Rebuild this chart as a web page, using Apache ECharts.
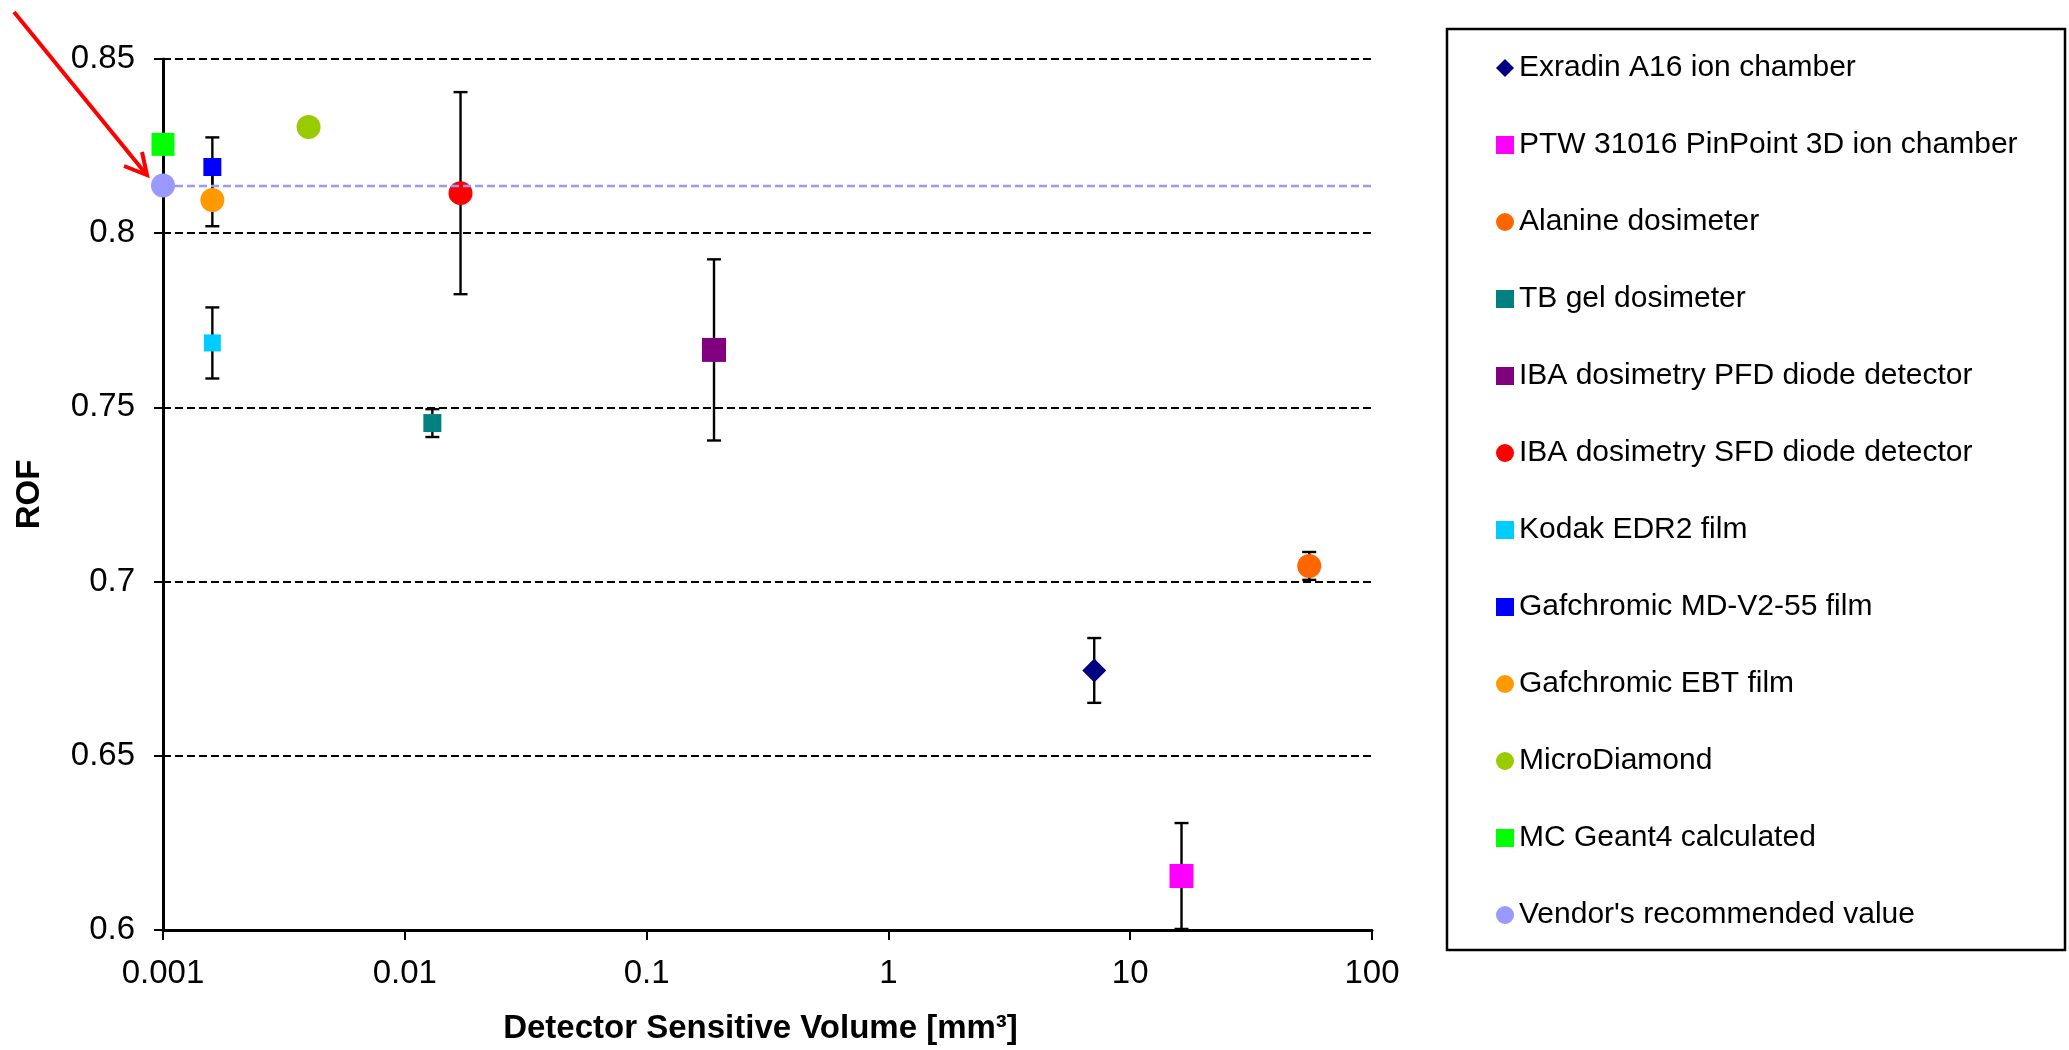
<!doctype html>
<html>
    <head>
        <meta charset="utf-8">
        <title>ROF vs detector volume</title>
        <style>
            html, body { margin: 0; padding: 0; background: #fff; }
            #main { width: 2069px; height: 1050px; }
        </style>
    </head>
    <body>
        <div id="main"></div>
        <script src="https://cdn.jsdelivr.net/npm/echarts@6/dist/echarts.min.js"></script>
        <script>
            // detectors, in legend order
            var detectors = [
                'Exradin A16 ion chamber',
                'PTW 31016 PinPoint 3D ion chamber',
                'Alanine dosimeter',
                'TB gel dosimeter',
                'IBA dosimetry PFD diode detector',
                'IBA dosimetry SFD diode detector',
                'Kodak EDR2 film',
                'Gafchromic MD-V2-55 film',
                'Gafchromic EBT film',
                'MicroDiamond',
                'MC Geant4 calculated',
                "Vendor's recommended value"
            ];
            // sensitive volume, mm3
            var volumes = [7.1, 16.3, 55, 0.013, 0.19, 0.017, 0.0016, 0.0016, 0.0016, 0.004, 0.001, 0.001];
            var rofValues = [0.6745, 0.6155, 0.7045, 0.7455, 0.7665, 0.8115, 0.7685, 0.819, 0.8095, 0.8305, 0.8255, 0.8137];
            var rofErrors = [0.0093, 0.0152, 0.004, 0.004, 0.026, 0.029, 0.0102, 0.0085, 0.0075, null, null, null];

            var xTickLabels = ['0.001', '0.01', '0.1', '1', '10', '100'];
            var yTickLabels = ['0.6', '0.65', '0.7', '0.75', '0.8', '0.85'];

            // marker look for each detector
            var markers = [
                { color: '#000080', symbol: 'diamond', size: 24 },
                { color: '#FF00FF', symbol: 'rect', size: 24 },
                { color: '#FF6600', symbol: 'circle', size: 24 },
                { color: '#008080', symbol: 'rect', size: 18 },
                { color: '#800080', symbol: 'rect', size: 24 },
                { color: '#FF0000', symbol: 'circle', size: 24 },
                { color: '#00CCFF', symbol: 'rect', size: 17 },
                { color: '#0000FF', symbol: 'rect', size: 18 },
                { color: '#FF9900', symbol: 'circle', size: 24 },
                { color: '#99CC00', symbol: 'circle', size: 24 },
                { color: '#00FF00', symbol: 'rect', size: 23 },
                { color: '#9999FF', symbol: 'circle', size: 24 }
            ];

            var font = 'Liberation Sans';
            var chart = echarts.init(document.getElementById('main'));

            var series = [];

            // error bars first, so the markers sit on top
            var errData = [];
            detectors.forEach(function (name, i) {
                if (rofErrors[i] != null) {
                    errData.push([volumes[i], rofValues[i], rofErrors[i]]);
                }
            });
            series.push({
                type: 'custom',
                name: 'errors',
                z: 1,
                silent: true,
                encode: { x: 0, y: 1 },
                data: errData,
                renderItem: function (params, api) {
                    var x = api.value(0), y = api.value(1), e = api.value(2);
                    var top = api.coord([x, y + e]);
                    var bot = api.coord([x, y - e]);
                    var half = 7;
                    var st = { stroke: '#000', lineWidth: 2.4 };
                    return {
                        type: 'group',
                        children: [
                            { type: 'line', shape: { x1: top[0], y1: top[1], x2: bot[0], y2: bot[1] }, style: st },
                            { type: 'line', shape: { x1: top[0] - half, y1: top[1], x2: top[0] + half, y2: top[1] }, style: st },
                            { type: 'line', shape: { x1: bot[0] - half, y1: bot[1], x2: bot[0] + half, y2: bot[1] }, style: st }
                        ]
                    };
                }
            });

            detectors.forEach(function (name, i) {
                var m = markers[i];
                var s = {
                    type: 'scatter',
                    name: name,
                    z: 3,
                    symbol: m.symbol,
                    symbolSize: m.size,
                    itemStyle: { color: m.color, opacity: 1 },
                    data: [[volumes[i], rofValues[i]]]
                };
                if (i === detectors.length - 1) {
                    // dashed reference line at the vendor value
                    s.markLine = {
                        silent: true,
                        symbol: 'none',
                        precision: 4,
                        label: { show: false },
                        lineStyle: { color: '#9999FF', width: 2.4, type: [8, 4] },
                        data: [{ yAxis: rofValues[i] }]
                    };
                }
                series.push(s);
            });

            chart.setOption({
                animation: false,
                backgroundColor: '#fff',
                textStyle: { fontFamily: font },
                grid: { left: 163, right: 697, top: 59, bottom: 120, containLabel: false, outerBoundsMode: 'none' },
                xAxis: {
                    type: 'log',
                    logBase: 10,
                    min: 0.001,
                    max: 100,
                    name: 'Detector Sensitive Volume [mm³]',
                    nameLocation: 'middle',
                    nameGap: 82,
                    nameTextStyle: { fontFamily: font, fontSize: 33, fontWeight: 'bold', color: '#000', padding: [0, 14, 0, 0] },
                    axisLine: { lineStyle: { color: '#000', width: 3 } },
                    axisTick: { show: true, inside: false, length: 10, lineStyle: { color: '#000', width: 2 } },
                    minorTick: { show: false },
                    splitLine: { show: false },
                    axisLabel: {
                        fontFamily: font, fontSize: 33, color: '#000', margin: 27,
                        formatter: function (v, idx) { return xTickLabels[idx]; }
                    }
                },
                yAxis: {
                    type: 'value',
                    min: 0.6,
                    max: 0.85,
                    interval: 0.05,
                    name: 'ROF',
                    nameLocation: 'middle',
                    nameRotate: 90,
                    nameGap: 117,
                    nameTextStyle: { fontFamily: font, fontSize: 33, fontWeight: 'bold', color: '#000' },
                    axisLine: { show: true, lineStyle: { color: '#000', width: 3 } },
                    axisTick: { show: true, inside: false, length: 9, lineStyle: { color: '#000', width: 2 } },
                    splitLine: { show: true, lineStyle: { color: '#000', width: 2, type: [8, 4] } },
                    axisLabel: {
                        fontFamily: font, fontSize: 33, color: '#000', margin: 28,
                        formatter: function (v, idx) { return yTickLabels[idx]; }
                    }
                },
                legend: {
                    orient: 'vertical',
                    left: 1496,
                    top: 53,
                    padding: 0,
                    itemWidth: 18,
                    itemHeight: 18,
                    itemGap: 47,
                    selectedMode: false,
                    data: detectors,
                    textStyle: { fontFamily: font, fontSize: 30, lineHeight: 30, color: '#000' }
                },
                graphic: [
                    {
                        type: 'rect',
                        silent: true,
                        shape: { x: 1447, y: 29, width: 618, height: 921 },
                        style: { fill: null, stroke: '#000', lineWidth: 2.5 }
                    },
                    {
                        // red arrow pointing at the vendor value
                        type: 'group',
                        silent: true,
                        children: [
                            { type: 'line', shape: { x1: 14, y1: 12, x2: 146, y2: 174 }, style: { stroke: '#FF0000', lineWidth: 4 } },
                            { type: 'polyline', shape: { points: [[124, 166], [147, 175], [142, 152]] }, style: { stroke: '#FF0000', lineWidth: 4, fill: null } }
                        ]
                    }
                ],
                series: series
            });

            window.onresize = chart.resize;
        </script>
    </body>
</html>
